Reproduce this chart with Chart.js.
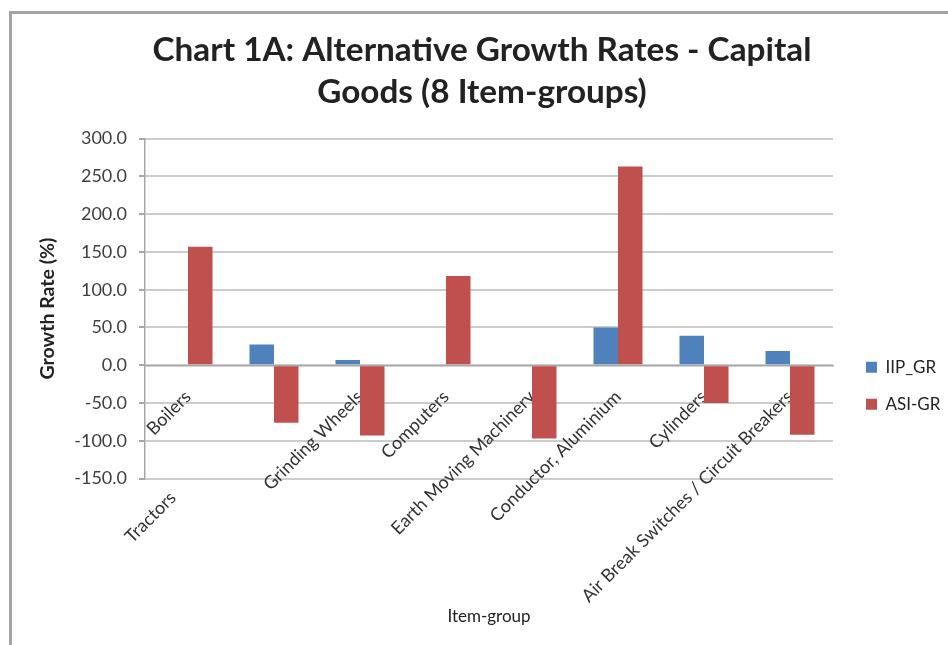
<!DOCTYPE html>
<html>
<head>
<meta charset="utf-8">
<title>Chart 1A</title>
<script src="https://cdn.jsdelivr.net/npm/chart.js@4.4.0/dist/chart.umd.min.js"></script>
<style>
  html, body { margin: 0; padding: 0; background: #fff; }
  #wrap { position: relative; width: 948px; height: 645px; overflow: hidden; }
  /* chart frame, only left and top edges are inside the picture */
  #frame { position: absolute; left: 9px; top: 11px; width: 1000px; height: 700px;
           border-left: 3px solid #a3a3a3; border-top: 3px solid #a3a3a3; }
  #chart { position: absolute; left: 0; top: 0; }
</style>
</head>
<body>
<div id="wrap">
  <div id="frame"></div>
  <canvas id="chart" width="948" height="645"></canvas>
</div>
<script>
// data
const categories = [
    'Boilers',
    'Tractors',
    'Grinding Wheels',
    'Computers',
    'Earth Moving Machinery',
    'Conductor, Aluminium',
    'Cylinders',
    'Air Break Switches / Circuit Breakers'
];
const iipGrowth = [null, 27.5, 7, null, null, 50, 39, 19];
const asiGrowth = [157, -76, -93, 118, -97, 263, -50, -92];
const yTickValues = [-150, -100, -50, 0, 50, 100, 150, 200, 250, 300];

const seriesNames = ['IIP_GR', 'ASI-GR'];
const chartTitle = ['Chart 1A: Alternative Growth Rates - Capital', 'Goods (8 Item-groups)'];
const yTitle = 'Growth Rate (%)';
const xTitle = 'Item-group';

Chart.defaults.font.family = 'Lato';
Chart.defaults.color = '#333';

// the Tractors label sits further down its slant in the original (padded label)
function xLabel(value, index) {
    const label = categories[index];
    return label === 'Tractors' ? label + ' '.repeat(31) : label;
}

new Chart(document.getElementById('chart'), {
    type: 'bar',
    data: {
        labels: categories,
        datasets: [
            {
                label: seriesNames[0],
                data: iipGrowth,
                backgroundColor: '#4F81BD',
            },
            {
                label: seriesNames[1],
                data: asiGrowth,
                backgroundColor: '#C0504D',
            }
        ]
    },
    options: {
        responsive: false,
        animation: false,
        layout: {
            padding: { left: 20, right: 4, top: 12, bottom: 0 }
        },
        datasets: {
            bar: {
                categoryPercentage: 0.57,
                barPercentage: 1.0,
            }
        },
        plugins: {
            title: {
                display: true,
                text: chartTitle,
                color: '#222',
                font: { size: 33.3, weight: 'bold', lineHeight: 1.24 },
                padding: { top: 18, bottom: 26 },
            },
            subtitle: {
                display: true,
                position: 'bottom',
                fullSize: false,
                text: xTitle,
                color: '#222',
                font: { size: 17, lineHeight: 1.2 },
                padding: { top: 128, bottom: 18 },
            },
            legend: {
                position: 'right',
                fullSize: false,
                maxWidth: 98,
                title: {
                    display: true,
                    text: '',
                    font: { size: 12, lineHeight: 1.2 },
                    padding: { top: 0, bottom: 140 },
                },
                labels: {
                    boxWidth: 11,
                    boxHeight: 11,
                    padding: 20,
                    color: '#222',
                    font: { size: 17 },
                },
            },
            tooltip: { enabled: false },
        },
        scales: {
            x: {
                axis: 'x',
                position: { y: 0 },
                grid: { display: false, drawTicks: false },
                border: { display: true, color: '#a6a6a6', width: 1.5 },
                ticks: {
                    autoSkip: false,
                    minRotation: 45,
                    maxRotation: 45,
                    padding: 21,
                    color: '#333',
                    font: { size: 18 },
                    callback: xLabel,
                },
            },
            y: {
                min: yTickValues[0],
                max: yTickValues[yTickValues.length - 1],
                afterBuildTicks: axis => {
                    axis.ticks = yTickValues.map(v => ({ value: v }));
                },
                afterFit: axis => {
                    axis.width = 125;
                },
                ticks: {
                    padding: 12,
                    color: '#404040',
                    font: { size: 18 },
                    callback: value => Number(value).toFixed(1),
                },
                grid: {
                    color: '#cccccc',
                    lineWidth: 2,
                    tickLength: 6,
                    tickColor: '#a6a6a6',
                },
                border: { color: '#a6a6a6', width: 1.5 },
                title: {
                    display: true,
                    text: yTitle,
                    color: '#222',
                    font: { size: 19.5, weight: 'bold', lineHeight: 1.2 },
                    padding: { top: 16, bottom: 0 },
                },
            },
            // empty spacer between plot and legend
            gap: {
                type: 'linear',
                position: 'right',
                display: true,
                grid: { display: false },
                border: { display: false },
                ticks: { display: false },
                afterFit: axis => {
                    axis.width = 13;
                },
            },
        },
    }
});
</script>
</body>
</html>
